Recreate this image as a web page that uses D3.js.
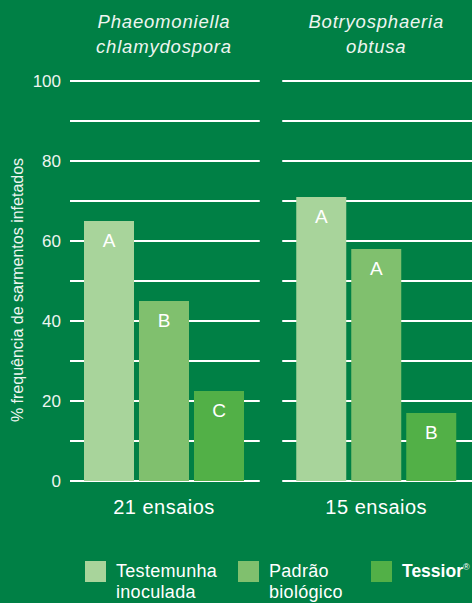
<!DOCTYPE html>
<html>
<head>
<meta charset="utf-8">
<script src="https://cdn.jsdelivr.net/npm/d3@7"></script>
<style>
  body { margin: 0; background: #008045; }
  svg { display: block; font-family: "Liberation Sans", Arial, sans-serif; }
  .tick text { fill: #eef5f0; font-size: 17px; }
</style>
</head>
<body>
<svg id="chart" width="472" height="603"></svg>
<script>
// data
const groups = ['21 ensaios', '15 ensaios']
const groupTitles = [['Phaeomoniella', 'chlamydospora'], ['Botryosphaeria', 'obtusa']]
const series = ['Testemunha inoculada', 'Padrão biológico', 'Tessior']
const values = [[65, 45, 22.5], [71, 58, 17]]
const letters = [['A', 'B', 'C'], ['A', 'A', 'B']]
const yTicks = [0, 20, 40, 60, 80, 100]
const gridTicks = [0, 10, 20, 30, 40, 50, 60, 70, 80, 90, 100]
const colors = ['#a8d49b', '#80c06e', '#52b047']

const svg = d3.select('#chart')

const y = d3.scaleLinear().domain([0, 100]).range([481, 81])
const x0 = d3.scaleBand().domain(groups).range([70, 472]).paddingInner(0.106).paddingOuter(0)
const x1 = d3.scaleBand().domain(series).range([14, 174]).paddingInner(0.0909).paddingOuter(0)
const color = d3.scaleOrdinal().domain(series).range(colors)

// y axis labels
svg.append('g')
    .attr('transform', 'translate(70,0)')
    .call(d3.axisLeft(y).tickValues(yTicks).tickSize(0).tickPadding(9))
    .call(g => g.select('.domain').remove())
    .call(g => g.selectAll('text').attr('font-family', null))

svg.append('text')
    .attr('transform', 'translate(23,290) rotate(-90)')
    .attr('text-anchor', 'middle')
    .attr('fill', '#eef5f0')
    .attr('font-size', 16)
    .text('% frequência de sarmentos infetados')

const panel = svg.selectAll('g.panel')
  .data(groups)
  .join('g')
    .attr('class', 'panel')
    .attr('transform', d => `translate(${x0(d)},0)`)

// gridlines
panel.selectAll('line.grid')
  .data(gridTicks)
  .join('line')
    .attr('x1', 0)
    .attr('x2', x0.bandwidth())
    .attr('y1', d => y(d))
    .attr('y2', d => y(d))
    .attr('stroke', '#fff')
    .attr('stroke-width', 2)

// bars
const bar = panel.selectAll('g.bar')
  .data((d, i) => series.map((s, j) => ({ s, v: values[i][j], l: letters[i][j] })))
  .join('g')
    .attr('class', 'bar')

bar.append('rect')
    .attr('x', d => x1(d.s))
    .attr('width', x1.bandwidth())
    .attr('y', d => y(d.v))
    .attr('height', d => y(0) - y(d.v))
    .attr('fill', d => color(d.s))

bar.append('text')
    .attr('x', d => x1(d.s) + x1.bandwidth() / 2)
    .attr('y', d => y(d.v) + 26)
    .attr('text-anchor', 'middle')
    .attr('fill', '#fff')
    .attr('font-size', 19)
    .text(d => d.l)

// titles
panel.append('text')
    .attr('text-anchor', 'middle')
    .attr('fill', '#eef5f0')
    .attr('font-size', 18.5)
    .attr('font-style', 'italic')
    .attr('letter-spacing', 0.8)
  .selectAll('tspan')
  .data((d, i) => groupTitles[i])
  .join('tspan')
    .attr('x', 94)
    .attr('y', (d, i) => 28 + i * 25)
    .text(d => d)

panel.append('text')
    .attr('x', 94)
    .attr('y', 514)
    .attr('text-anchor', 'middle')
    .attr('fill', '#fff')
    .attr('font-size', 20)
    .attr('letter-spacing', 0.5)
    .text(d => d)

// legend
const legendX = [85, 238, 371]
const legendLines = [['Testemunha', 'inoculada'], ['Padrão', 'biológico'], ['Tessior']]
const leg = svg.selectAll('g.legend')
  .data(series)
  .join('g')
    .attr('class', 'legend')
    .attr('transform', (d, i) => `translate(${legendX[i]},561)`)

leg.append('rect')
    .attr('width', 21)
    .attr('height', 21)
    .attr('fill', d => color(d))

const legText = leg.append('text')
    .attr('fill', '#fff')
    .attr('font-size', (d, i) => i === 2 ? 17.5 : 18)
    .attr('letter-spacing', (d, i) => i === 2 ? 0 : 0.3)
    .attr('font-weight', (d, i) => i === 2 ? 'bold' : null)

legText.selectAll('tspan')
  .data((d, i) => legendLines[i])
  .join('tspan')
    .attr('x', 31)
    .attr('y', (d, i) => 16 + i * 21)
    .text(d => d)

legText.filter((d, i) => i === 2)
  .append('tspan')
    .attr('dy', -7)
    .attr('font-size', 9)
    .attr('font-weight', 'normal')
    .text('®')
</script>
</body>
</html>
